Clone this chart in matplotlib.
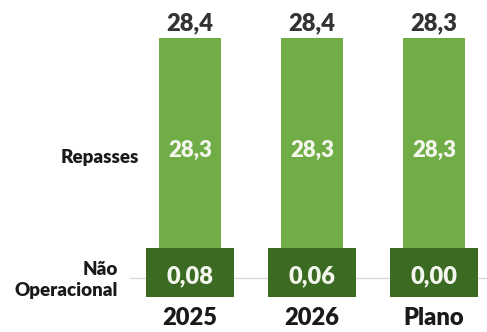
import matplotlib.pyplot as plt

# data
categories = ['2025', '2026', 'Plano']
repasses = [28.3, 28.3, 28.3]
nao_operacional = [0.08, 0.06, 0.00]
totals = [28.4, 28.4, 28.3]

light_green = '#70ad47'
dark_green = '#3b6a22'
text_dark = '#333333'

plt.rcParams['font.family'] = ['Lato', 'DejaVu Sans']
BOLD = 'heavy'


def fmt(v, nd):
    return f'{v:.{nd}f}'.replace('.', ',')


fig = plt.figure(figsize=(4.87, 3.32), dpi=100)
W, H = 487, 332
x = list(range(len(categories)))
xlim = (-190 / 122, (W - 190) / 122)

# upper axes: Repasses bars
ax_top = fig.add_axes([0, (H - 248) / H, 1, (248 - 38) / H])
ax_top.set_xlim(*xlim)
ax_top.set_ylim(0, max(repasses))
ax_top.bar(x, repasses, width=0.51, color=light_green, zorder=2)
for i, v in enumerate(repasses):
    ax_top.text(i, v * 0.465, fmt(v, 1), ha='center', va='center', color='#f4f6ee',
                fontsize=16, fontweight=BOLD)
for i, t in enumerate(totals):
    ax_top.annotate(fmt(t, 1), (i, repasses[i]), xytext=(0, 3), textcoords='offset points',
                    ha='center', va='bottom', color=text_dark, fontsize=17, fontweight=BOLD)
ax_top.axis('off')

# lower axes: Não Operacional boxes (fixed height label boxes)
ax_bot = fig.add_axes([0, (H - 297) / H, 1, (297 - 248) / H])
ax_bot.set_xlim(*xlim)
ax_bot.set_ylim(0, 1)
ax_bot.axhline(0.39, xmin=130 / W, xmax=1, color='#d9d9d9', linewidth=1, zorder=1)
ax_bot.bar(x, [1] * len(x), width=0.72, color=dark_green, zorder=3)
for i, v in enumerate(nao_operacional):
    ax_bot.text(i, 0.42, fmt(v, 2), ha='center', va='center', color='#f4f6ee',
                fontsize=17, fontweight=BOLD, zorder=4)
for s in ax_bot.spines.values():
    s.set_visible(False)
ax_bot.set_yticks([])
ax_bot.set_xticks(x)
ax_bot.set_xticklabels(categories, fontsize=17, fontweight=BOLD, color='#1a1a1a')
ax_bot.tick_params(axis='x', length=0, pad=7)

# series labels on the left
fig.text(139 / W, 1 - 158 / H, 'Repasses', ha='right', va='center',
         fontsize=13.5, fontweight=BOLD, color='#1a1a1a')
fig.text(118 / W, 1 - 280 / H, 'Não\nOperacional', ha='right', va='center',
         fontsize=13.5, fontweight=BOLD, color='#1a1a1a', linespacing=1.3)

fig.savefig('out.png', dpi=100)
